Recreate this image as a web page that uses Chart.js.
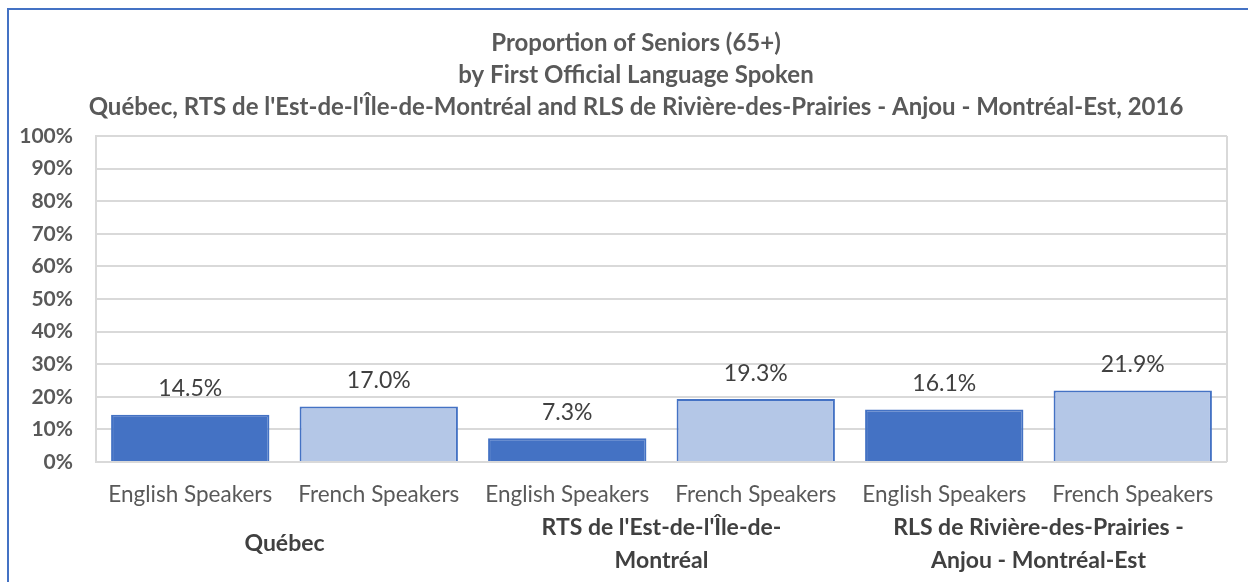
<!DOCTYPE html>
<html>
<head>
<meta charset="utf-8">
<script src="https://cdn.jsdelivr.net/npm/chart.js@4"></script>
<style>
    body { margin: 0; background: #fff; }
    #wrap { position: relative; width: 1248px; height: 582px; overflow: hidden; }
    #frame { position: absolute; left: 7px; top: 8px; width: 1260px; height: 600px;
             border-top: 2px solid #4472C4; border-left: 2px solid #4472C4; }
    canvas { position: absolute; left: 0; top: 0; }
</style>
</head>
<body>
<div id="wrap">
    <div id="frame"></div>
    <canvas id="chartSeniors"></canvas>
</div>
<script>
const titleLines = [
    'Proportion of Seniors (65+)',
    'by First Official Language Spoken',
    "Québec, RTS de l'Est-de-l'Île-de-Montréal and RLS de Rivière-des-Prairies - Anjou - Montréal-Est, 2016"
];
const speakerLabels = [
    'English Speakers', 'French Speakers',
    'English Speakers', 'French Speakers',
    'English Speakers', 'French Speakers'
];
const groupLabels = [
    ['Québec'],
    ["RTS de l'Est-de-l'Île-de-", 'Montréal'],
    ['RLS de Rivière-des-Prairies -', 'Anjou - Montréal-Est']
];
const seniorShare = [14.5, 17.0, 7.3, 19.3, 16.1, 21.9];
const yTicks = [0, 10, 20, 30, 40, 50, 60, 70, 80, 90, 100];

const FONT = 'Lato, "Open Sans", sans-serif';

renderChart();

function renderChart() {
    // title, bar value labels, group labels under the axis, right edge of plot box
    const extras = {
        id: 'extras',
        beforeDatasetsDraw(chart) {
            const ctx = chart.ctx;
            const a = chart.chartArea;
            ctx.save();
            ctx.strokeStyle = '#d9d9d9';
            ctx.lineWidth = 2;
            ctx.beginPath();
            ctx.moveTo(a.right, a.top);
            ctx.lineTo(a.right, a.bottom);
            ctx.stroke();
            ctx.restore();
        },
        afterDatasetsDraw(chart) {
            const ctx = chart.ctx;
            const meta = chart.getDatasetMeta(0);
            const x = chart.scales.x;
            ctx.save();
            ctx.textAlign = 'center';
            ctx.textBaseline = 'middle';

            // title block, centred a little right of the canvas like the Excel original
            ctx.fillStyle = '#595959';
            ctx.font = 'bold 24px ' + FONT;
            titleLines.forEach(function (line, k) {
                ctx.fillText(line, 636, 43 + k * 32);
            });

            ctx.fillStyle = '#404040';
            ctx.font = '23px ' + FONT;
            meta.data.forEach(function (bar, i) {
                ctx.fillText(seniorShare[i].toFixed(1) + '%', bar.x, bar.y - 26);
            });

            ctx.font = 'bold 23px ' + FONT;
            groupLabels.forEach(function (lines, g) {
                const cx = (x.getPixelForValue(2 * g) + x.getPixelForValue(2 * g + 1)) / 2;
                const mid = chart.chartArea.bottom + 82;
                lines.forEach(function (line, k) {
                    ctx.fillText(line, cx, mid + (k - (lines.length - 1) / 2) * 33);
                });
            });
            ctx.restore();
        }
    };

    const data = {
        labels: speakerLabels,
        datasets: [{
            label: 'Seniors (65+)',
            data: seniorShare,
            backgroundColor: seniorShare.map((v, i) => i % 2 ? '#B4C7E7' : '#4472C4'),
            borderColor: '#4472C4',
            borderWidth: 2,
            borderSkipped: 'bottom',
            barPercentage: 0.84,
            categoryPercentage: 1
        }]
    };

    const config = {
        type: 'bar',
        data: data,
        options: {
            responsive: true,
            maintainAspectRatio: false,
            animation: false,
            layout: { padding: { top: 136, right: 21, left: 0, bottom: 0 } },
            plugins: {
                legend: { display: false },
                tooltip: { enabled: false },
                title: { display: false }
            },
            scales: {
                x: {
                    grid: { display: false },
                    border: { display: false },
                    ticks: {
                        color: '#595959',
                        font: { family: FONT, size: 22.5 },
                        padding: 11,
                        maxRotation: 0,
                        autoSkip: false
                    },
                    afterFit(scale) { scale.height = 120; }
                },
                y: {
                    min: 0,
                    max: 100,
                    afterBuildTicks(scale) {
                        scale.ticks = yTicks.map(v => ({ value: v }));
                    },
                    grid: { color: '#d9d9d9', lineWidth: 2, drawTicks: false },
                    border: { color: '#d9d9d9', width: 2 },
                    ticks: {
                        color: '#595959',
                        font: { family: FONT, size: 21, weight: 'bold' },
                        padding: 23,
                        callback: v => v + '%'
                    },
                    afterFit(scale) { scale.width = 96; }
                }
            }
        },
        plugins: [extras]
    };

    new Chart(document.getElementById('chartSeniors'), config);
}
</script>
</body>
</html>
